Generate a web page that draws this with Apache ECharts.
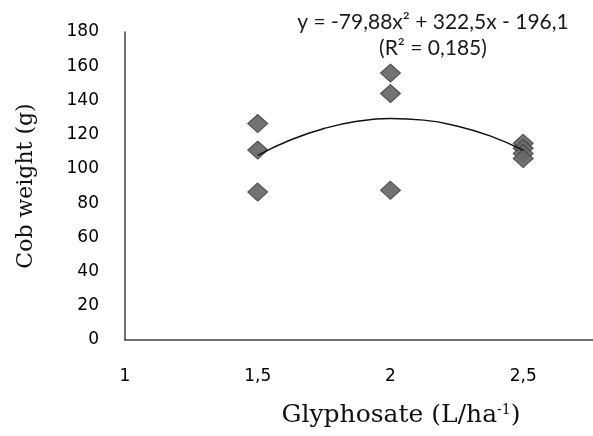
<!DOCTYPE html>
<html>
<head>
<meta charset="utf-8">
<script src="https://cdn.jsdelivr.net/npm/echarts@6/dist/echarts.min.js"></script>
<style>html,body{margin:0;padding:0;background:#fff}#c{width:593px;height:436px}</style>
</head>
<body>
<div id="c"></div>
<script>
// Observed values (Glyphosate dose, cob weight)
const doseA = [1.5, 1.5, 1.5];
const weightA = [126.5, 111, 86.5];
const doseB = [2, 2, 2];
const weightB = [156, 144, 87.5];
const doseC = [2.5, 2.5, 2.5, 2.5];
const weightC = [115, 112, 109, 106];
// Trendline points
const trendX = [1.5, 1.625, 1.75, 1.875, 2.0, 2.125, 2.25, 2.375, 2.5];
const trendY = [107.9, 117.0, 123.6, 127.8, 129.4, 128.5, 125.1, 119.3, 110.9];
const yTicks = [0, 20, 40, 60, 80, 100, 120, 140, 160, 180];
const xTicks = [1, 1.5, 2, 2.5];
const equationLine1 = 'y = -79,88x² + 322,5x - 196,1';
const equationLine2 = '(R² = 0,185)';

const points = [];
[[doseA, weightA], [doseB, weightB], [doseC, weightC]].forEach(([xs, ys]) => {
  xs.forEach((x, i) => points.push([x, ys[i]]));
});
const trend = trendX.map((x, i) => [x, trendY[i]]);

const chart = echarts.init(document.getElementById('c'), null, {renderer: 'canvas'});
chart.setOption({
  animation: false,
  grid: {left: 125, right: 0, top: 32, bottom: 96},
  xAxis: {
    type: 'value', min: 1, max: 2.763, interval: 0.5,
    axisLine: {show: true, onZero: false, lineStyle: {color: '#404040', width: 1.5}},
    axisTick: {show: false},
    splitLine: {show: false},
    axisLabel: {
      margin: 28, color: '#000', fontFamily: 'DejaVu Sans', fontSize: 17,
      showMaxLabel: false,
      formatter: v => xTicks.indexOf(v) >= 0 ? String(v).replace('.', ',') : ''
    },
    name: 'Glyphosate (L/ha{s|-1})',
    nameLocation: 'middle', nameGap: 63,
    nameTextStyle: {
      fontFamily: 'DejaVu Serif', fontSize: 25, color: '#111', padding: [0, 0, 0, 84],
      rich: {s: {fontFamily: 'DejaVu Serif', fontSize: 14, verticalAlign: 'top', color: '#111', padding: [0, 0, 10, 0]}}
    }
  },
  yAxis: {
    type: 'value', min: 0, max: 180, interval: 20,
    axisLine: {show: true, lineStyle: {color: '#404040', width: 1.5}},
    axisTick: {show: false},
    splitLine: {show: false},
    axisLabel: {margin: 26, color: '#000', fontFamily: 'DejaVu Sans', fontSize: 17},
    name: 'Cob weight (g)',
    nameLocation: 'middle', nameGap: 88,
    nameTextStyle: {fontFamily: 'DejaVu Serif', fontSize: 22, color: '#111'}
  },
  series: [
    {
      type: 'line', data: trend, smooth: true, symbol: 'none',
      lineStyle: {color: '#111', width: 1.5}, z: 3
    },
    {
      type: 'scatter', data: points, symbol: 'diamond', symbolSize: [20, 18],
      itemStyle: {color: '#6a6a6a', borderColor: '#444', borderWidth: 1, opacity: 0.95}, z: 2
    }
  ],
  graphic: [
    {type: 'text', style: {text: equationLine1, align: 'center', verticalAlign: 'middle', font: '21px Lato', fill: '#1a1a1a'}, x: 433, y: 22},
    {type: 'text', style: {text: equationLine2, align: 'center', verticalAlign: 'middle', font: '21px Lato', fill: '#1a1a1a'}, x: 433, y: 48}
  ]
});
</script>
</body>
</html>
